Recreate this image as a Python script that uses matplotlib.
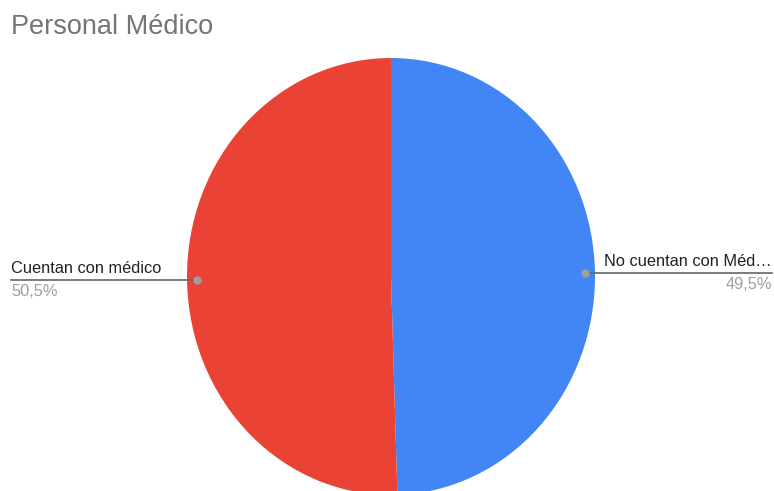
import numpy as np
import matplotlib.pyplot as plt
from matplotlib.transforms import blended_transform_factory

# slices, clockwise from 12 o'clock
labels = ['No cuentan con Méd…', 'Cuentan con médico']
values = [49.5, 50.5]
pct_text = ['49,5%', '50,5%']
colors = ['#4285F4', '#EA4335']

W, H = 774, 491
fig = plt.figure(figsize=(W / 100, H / 100), dpi=100)
plt.rcParams['font.family'] = ['Liberation Sans', 'DejaVu Sans']

# pie box in pixels (left, top, right, bottom)
px_l, px_t, px_r, px_b = 187, 58, 595, 495
ax = fig.add_axes([px_l / W, 1 - px_b / H, (px_r - px_l) / W, (px_b - px_t) / H])
wedges, _ = ax.pie(values, colors=colors, startangle=90, counterclock=False,
                   radius=1, wedgeprops=dict(linewidth=0))
ax.set_aspect('auto')
ax.set_xlim(-1, 1)
ax.set_ylim(-1, 1)
ax.axis('off')

fig.text(11 / W, 1 - 34 / H, 'Personal Médico', fontsize=19.5, color='#757575',
         ha='left', va='baseline')

# leader lines: x in figure fraction, y in data
tr = blended_transform_factory(fig.transFigure, ax.transData)
for w, lab, pct in zip(wedges, labels, pct_text):
    mid = np.deg2rad((w.theta1 + w.theta2) / 2)
    dx, dy = 0.95 * np.cos(mid), 0.95 * np.sin(mid)
    ax.plot([dx], [dy], 'o', color='#9E9E9E', markersize=5, clip_on=False, zorder=5)
    # convert dot x to figure fraction
    fx = fig.transFigure.inverted().transform(ax.transData.transform((dx, dy)))[0]
    if dx < 0:
        x_end, ha = 11 / W, 'left'
    else:
        x_end, ha = 772 / W, 'right'
    ax.plot([fx, x_end], [dy, dy], color='#666666', linewidth=1.2,
            transform=tr, clip_on=False, zorder=4)
    ax.annotate(lab, xy=(x_end, dy), xycoords=tr, xytext=(0, 3),
                textcoords='offset points', ha=ha, va='bottom',
                fontsize=11.8, color='#222222')
    ax.annotate(pct, xy=(x_end, dy), xycoords=tr, xytext=(0, -3),
                textcoords='offset points', ha=ha, va='top',
                fontsize=11.8, color='#9E9E9E')

fig.savefig('out.png', dpi=100, facecolor='white')
